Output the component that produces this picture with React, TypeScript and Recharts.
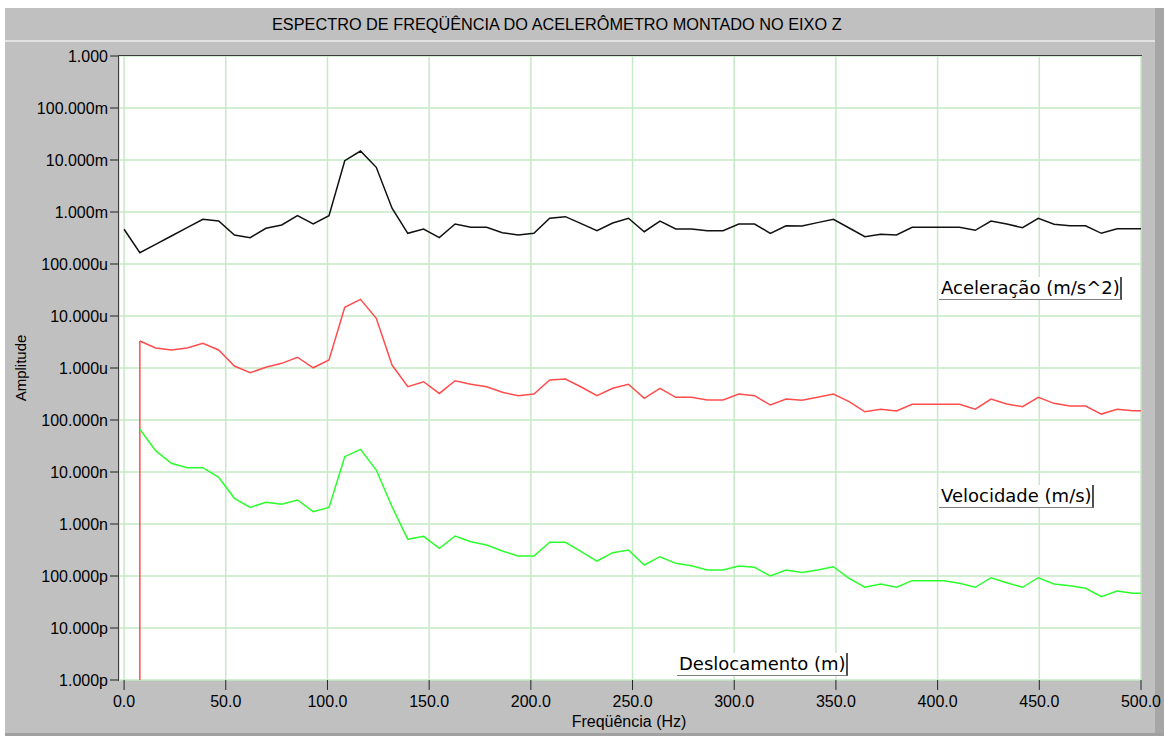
import React from 'react';
import { LineChart, Line, XAxis, YAxis, CartesianGrid, ReferenceLine } from 'recharts';

// FFT bins (Hz)
const freqHz = [
  0, 7.75, 15.5, 23.25, 31, 38.75, 46.5, 54.25, 62, 69.75,
  77.5, 85.25, 93, 100.75, 108.5, 116.25, 124, 131.75, 139.5, 147.25,
  155, 162.75, 170.5, 178.25, 186, 193.75, 201.5, 209.25, 217, 224.75,
  232.5, 240.25, 248, 255.75, 263.5, 271.25, 279, 286.75, 294.5, 302.25,
  310, 317.75, 325.5, 333.25, 341, 348.75, 356.5, 364.25, 372, 379.75,
  387.5, 395.25, 403, 410.75, 418.5, 426.25, 434, 441.75, 449.5, 457.25,
  465, 472.75, 480.5, 488.25, 496, 503.75,
];

// m/s^2
const aceleracao = [
  4.65e-4, 1.65e-4, 2.39e-4, 3.45e-4, 4.99e-4, 7.24e-4, 6.71e-4, 3.61e-4, 3.21e-4, 4.86e-4,
  5.62e-4, 8.49e-4, 5.88e-4, 8.49e-4, 9.7e-3, 1.49e-2, 7.24e-3, 1.18e-3, 3.89e-4, 4.71e-4,
  3.21e-4, 5.88e-4, 5.08e-4, 5.08e-4, 4.0e-4, 3.61e-4, 3.89e-4, 7.57e-4, 8.13e-4, 5.96e-4,
  4.37e-4, 6.14e-4, 7.57e-4, 4.18e-4, 6.71e-4, 4.71e-4, 4.71e-4, 4.37e-4, 4.37e-4, 5.88e-4,
  5.88e-4, 3.89e-4, 5.45e-4, 5.38e-4, 6.25e-4, 7.24e-4, 4.92e-4, 3.35e-4, 3.73e-4, 3.61e-4,
  5.08e-4, 5.08e-4, 5.08e-4, 5.08e-4, 4.45e-4, 6.71e-4, 5.88e-4, 4.99e-4, 7.57e-4, 5.8e-4,
  5.45e-4, 5.45e-4, 3.89e-4, 4.78e-4, 4.78e-4, 4.78e-4,
];

// m/s (bin 0 is zero)
const velocidade = [
  0, 3.31e-6, 2.42e-6, 2.22e-6, 2.42e-6, 2.99e-6, 2.22e-6, 1.09e-6, 8.12e-7, 1.03e-6,
  1.23e-6, 1.61e-6, 1.01e-6, 1.43e-6, 1.47e-5, 2.09e-5, 9.03e-6, 1.14e-6, 4.37e-7, 5.45e-7,
  3.24e-7, 5.7e-7, 4.86e-7, 4.37e-7, 3.41e-7, 2.93e-7, 3.16e-7, 5.88e-7, 6.14e-7, 4.31e-7,
  2.93e-7, 4.07e-7, 4.86e-7, 2.61e-7, 4.07e-7, 2.73e-7, 2.73e-7, 2.42e-7, 2.42e-7, 3.16e-7,
  2.93e-7, 1.94e-7, 2.53e-7, 2.4e-7, 2.73e-7, 3.16e-7, 2.25e-7, 1.44e-7, 1.61e-7, 1.49e-7,
  2.0e-7, 2.0e-7, 2.0e-7, 2.0e-7, 1.61e-7, 2.53e-7, 2.03e-7, 1.8e-7, 2.73e-7, 2.09e-7,
  1.86e-7, 1.86e-7, 1.3e-7, 1.61e-7, 1.51e-7, 1.51e-7,
];

// m (bin 0 undefined)
const deslocamento = [
  null, 6.62e-8, 2.57e-8, 1.47e-8, 1.21e-8, 1.21e-8, 7.91e-9, 3.12e-9, 2.09e-9, 2.61e-9,
  2.39e-9, 2.9e-9, 1.73e-9, 2.09e-9, 1.97e-8, 2.73e-8, 1.09e-8, 2.15e-9, 5.08e-10, 5.8e-10,
  3.41e-10, 5.88e-10, 4.57e-10, 3.95e-10, 3.03e-10, 2.42e-10, 2.42e-10, 4.45e-10, 4.45e-10, 2.93e-10,
  1.94e-10, 2.81e-10, 3.16e-10, 1.63e-10, 2.35e-10, 1.75e-10, 1.58e-10, 1.3e-10, 1.3e-10, 1.56e-10,
  1.47e-10, 1.0e-10, 1.3e-10, 1.17e-10, 1.3e-10, 1.51e-10, 9.04e-11, 6.07e-11, 7.02e-11, 6.07e-11,
  8.13e-11, 8.13e-11, 8.13e-11, 7.24e-11, 6.07e-11, 9.27e-11, 7.43e-11, 6.07e-11, 9.27e-11, 7.02e-11,
  6.5e-11, 5.8e-11, 4.0e-11, 5.15e-11, 4.65e-11, 4.65e-11,
];

const xTicks = [0, 50, 100, 150, 200, 250, 300, 350, 400, 450, 500];
const yTicks = [1, 1e-1, 1e-2, 1e-3, 1e-4, 1e-5, 1e-6, 1e-7, 1e-8, 1e-9, 1e-10, 1e-11, 1e-12];
const yTickLabels = [
  '1.000', '100.000m', '10.000m', '1.000m', '100.000u', '10.000u', '1.000u',
  '100.000n', '10.000n', '1.000n', '100.000p', '10.000p', '1.000p',
];

const rows = freqHz.map((f, i) => ({
  f,
  acc: aceleracao[i],
  vel: velocidade[i] > 0 ? velocidade[i] : null,
  disp: deslocamento[i],
}));

const SANS = '"Liberation Sans", Arial, sans-serif';
const gray = '#c0c0c0';

const tagStyle: React.CSSProperties = {
  position: 'absolute',
  background: '#fff',
  fontFamily: '"DejaVu Sans", sans-serif',
  fontSize: 18,
  lineHeight: '22px',
  color: '#000',
  borderBottom: '1px solid #808080',
  borderRight: '2px solid #505050',
  paddingLeft: 2,
  whiteSpace: 'nowrap',
};

export default function App() {
  return (
    <div style={{ position: 'relative', width: 1164, height: 736, background: '#fff', overflow: 'hidden', fontFamily: SANS }}>
      <style>{'body{margin:0}'}</style>
      <div style={{ position: 'absolute', left: 5, top: 8, width: 1150, height: 725, background: gray }} />
      <div style={{ position: 'absolute', left: 1155, top: 8, width: 9, height: 728, background: '#a6a6a6' }} />
      <div style={{ position: 'absolute', left: 5, top: 733, width: 1159, height: 3, background: '#a0a0a0' }} />
      <div style={{ position: 'absolute', left: 5, top: 40, width: 1150, height: 2, background: '#e2e2e2' }} />
      <div style={{ position: 'absolute', left: 272, top: 8, height: 32, lineHeight: '32px', fontSize: 16.3, color: '#000', whiteSpace: 'nowrap' }}>
        ESPECTRO DE FREQÜÊNCIA DO ACELERÔMETRO MONTADO NO EIXO Z
      </div>

      <div style={{ position: 'absolute', left: 0, top: 0 }}>
        <LineChart width={1164} height={736} data={rows} margin={{ top: 56, right: 23, left: 0, bottom: 0 }}>
          <CartesianGrid stroke="#c6e9c6" strokeWidth={1.5} fill="#ffffff" />
          <XAxis
            type="number"
            dataKey="f"
            domain={[-2.5, 500]}
            ticks={xTicks}
            interval={0}
            allowDataOverflow
            height={56}
            axisLine={false}
            tickSize={10}
            tickMargin={6}
            tickLine={{ stroke: '#222' }}
            tick={{ fontSize: 16, fill: '#000', fontFamily: SANS }}
            tickFormatter={(v: number) => v.toFixed(1)}
          />
          <YAxis
            type="number"
            scale="log"
            domain={[1e-12, 1]}
            ticks={yTicks}
            interval={0}
            allowDataOverflow
            width={119}
            axisLine={false}
            tickSize={9}
            tickMargin={2}
            tickLine={{ stroke: '#222' }}
            tick={{ fontSize: 16, fill: '#000', fontFamily: SANS }}
            tickFormatter={(v: number) => yTickLabels[Math.round(-Math.log10(v))]}
          />
          <ReferenceLine
            segment={[{ x: freqHz[1], y: 1e-12 }, { x: freqHz[1], y: velocidade[1] }]}
            stroke="#ff4d4d"
            strokeWidth={1.5}
          />
          <Line dataKey="disp" stroke="#2bff2b" strokeWidth={1.5} dot={false} isAnimationActive={false} />
          <Line dataKey="vel" stroke="#ff4d4d" strokeWidth={1.5} dot={false} isAnimationActive={false} />
          <Line dataKey="acc" stroke="#111" strokeWidth={1.5} dot={false} isAnimationActive={false} />
        </LineChart>
      </div>

      <div style={{ position: 'absolute', left: 118, top: 55, width: 1023, height: 625, borderTop: '1px solid #3c3c3c', borderLeft: '1px solid #3c3c3c', pointerEvents: 'none' }} />

      <div style={{ ...tagStyle, left: 939, top: 277 }}>Aceleração (m/s^2)</div>
      <div style={{ ...tagStyle, left: 939, top: 485 }}>Velocidade (m/s)</div>
      <div style={{ ...tagStyle, left: 677, top: 653 }}>Deslocamento (m)</div>

      <div style={{ position: 'absolute', left: 20, top: 368, transform: 'translate(-50%, -50%) rotate(-90deg)', fontSize: 15, color: '#000', whiteSpace: 'nowrap' }}>
        Amplitude
      </div>
      <div style={{ position: 'absolute', left: 629, top: 722, transform: 'translate(-50%, -50%)', fontSize: 16, color: '#000', whiteSpace: 'nowrap' }}>
        Freqüência (Hz)
      </div>
    </div>
  );
}
